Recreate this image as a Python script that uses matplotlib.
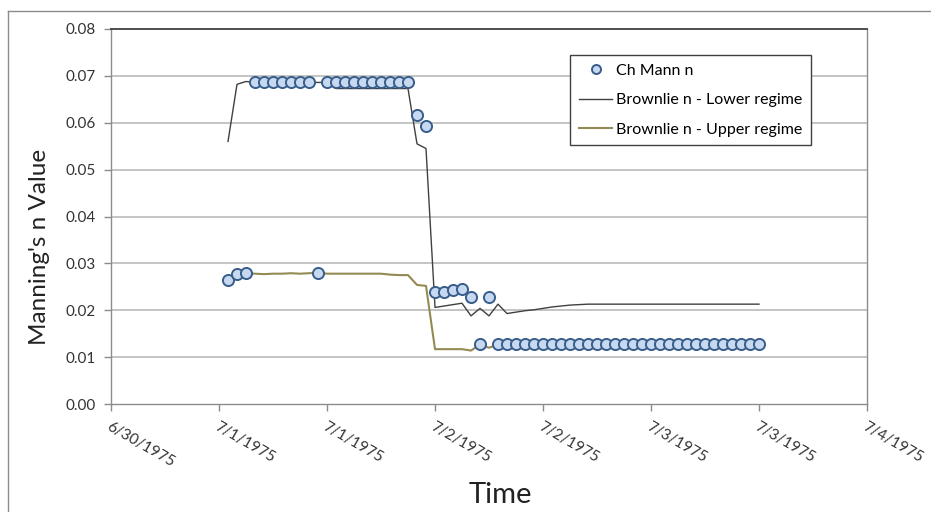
import matplotlib
matplotlib.use("Agg")
import matplotlib.pyplot as plt
from matplotlib.lines import Line2D
import pandas as pd

plt.rcParams['font.family'] = ['Lato', 'DejaVu Sans']

# Hourly time stamps, 7/1/1975 01:00 through 7/3/1975 12:00
times = pd.date_range("1975-07-01 01:00", "1975-07-03 12:00", freq="h")

ch_mann_n = [
    0.0265, 0.0277, 0.0279,
    0.0686, 0.0686, 0.0686, 0.0686, 0.0686, 0.0686, 0.0686,
    0.0280,
    0.0686, 0.0686, 0.0686, 0.0686, 0.0686, 0.0686, 0.0686, 0.0686, 0.0686, 0.0686,
    0.0617, 0.0594,
    0.0238, 0.0240, 0.0243, 0.0245, 0.0229,
    0.0127,
    0.0228,
] + [0.0128] * 30

brownlie_lower = [
    0.0560, 0.0682, 0.0688,
    0.0686, 0.0686, 0.0686, 0.0686, 0.0686, 0.0686, 0.0686, 0.0686,
    0.0686,
    0.0673, 0.0673, 0.0673, 0.0673, 0.0673, 0.0673, 0.0673, 0.0673, 0.0673,
    0.0555, 0.0545,
    0.0206, 0.0209, 0.0212, 0.0215,
    0.0188, 0.0204, 0.0188, 0.0213, 0.0193,
    0.0196, 0.0199, 0.0201, 0.0204, 0.0207, 0.0209, 0.0211, 0.0212,
] + [0.0213] * 20

brownlie_upper = [
    0.0265, 0.0277, 0.0279,
    0.0278, 0.0277, 0.0278, 0.0278, 0.0279, 0.0278, 0.0279,
    0.0280,
    0.0278, 0.0278, 0.0278, 0.0278, 0.0278, 0.0278, 0.0278, 0.0276, 0.0275, 0.0275,
    0.0254, 0.0252,
    0.0117, 0.0117, 0.0117, 0.0117, 0.0114,
    0.0127, 0.0120,
] + [0.0127] * 30

y_ticks = [0.00, 0.01, 0.02, 0.03, 0.04, 0.05, 0.06, 0.07, 0.08]
x_start = pd.Timestamp("1975-06-30 12:00")
x_end = pd.Timestamp("1975-07-04 00:00")

W, H = 931, 512
fig = plt.figure(figsize=(W / 100, H / 100), dpi=100)
ax = fig.add_axes([111 / W, (H - 404) / H, (867 - 111) / W, (404 - 29) / H])

grid_c = "#bfbfbf"
for yv in y_ticks[1:-1]:
    ax.axhline(yv, color=grid_c, lw=1.3, zorder=0)

ax.plot(times, brownlie_lower, color="#404040", lw=1.0, zorder=2,
        label="Brownlie n - Lower regime")
ax.plot(times, brownlie_upper, color="#948a54", lw=1.5, zorder=2,
        label="Brownlie n - Upper regime")
ax.plot(times, ch_mann_n, linestyle="none", marker="o", markersize=8.0,
        markerfacecolor="#c6d9f1", markeredgecolor="#385d8a",
        markeredgewidth=1.4, zorder=3, label="Ch Mann n")

ax.set_xlim(x_start, x_end)
ax.set_ylim(0, 0.08)
ax.set_yticks(y_ticks)
ax.set_yticklabels([f"{v:.2f}" for v in y_ticks])

xt = pd.date_range(x_start, x_end, freq="12h")
ax.set_xticks(xt)
ax.set_xticklabels([f"{d.month}/{d.day}/{d.year}" for d in xt])

for s in ("left", "bottom", "right"):
    ax.spines[s].set_color("#8c8c8c")
    ax.spines[s].set_linewidth(1.0)
ax.spines["top"].set_color("#404040")
ax.spines["top"].set_linewidth(1.3)

ax.tick_params(axis="y", length=5, width=1, color="#8c8c8c", labelsize=11,
               labelcolor="#333333", pad=6, direction="out")
ax.tick_params(axis="x", length=5, width=1, color="#8c8c8c", labelsize=11,
               labelcolor="#333333", pad=6, direction="out")
for lbl in ax.get_xticklabels():
    lbl.set_rotation(-30)
    lbl.set_ha("left")
    lbl.set_va("top")
    lbl.set_rotation_mode("anchor")

# axis titles
fig.text(40 / W, 1 - 247 / H, "Manning's n Value", fontsize=17.5, color="#222222",
         rotation=90, ha="center", va="center")
fig.text(500 / W, 1 - 495 / H, "Time", fontsize=21, color="#222222",
         ha="center", va="center")

handles, labels = ax.get_legend_handles_labels()
order = [2, 0, 1]
leg = ax.legend([handles[i] for i in order], [labels[i] for i in order],
                loc="upper left", bbox_to_anchor=((570 - 111) / (867 - 111),
                                                  (404 - 55) / (404 - 29)),
                fontsize=11.5, frameon=True, fancybox=False, edgecolor="#404040",
                framealpha=1, borderpad=0.55, labelspacing=0.95,
                handlelength=2.1, handletextpad=0.25, borderaxespad=0)
leg.get_frame().set_linewidth(1.0)
leg.legend_handles[0].set_markersize(6.5)

# chart area border (left and top edges)
fig.add_artist(Line2D([8 / W, 8 / W], [0, 1 - 11 / H], transform=fig.transFigure,
                      color="#8c8c8c", lw=1.0))
fig.add_artist(Line2D([8 / W, 1], [1 - 11 / H, 1 - 11 / H], transform=fig.transFigure,
                      color="#8c8c8c", lw=1.0))

fig.savefig("out.png", dpi=100)
